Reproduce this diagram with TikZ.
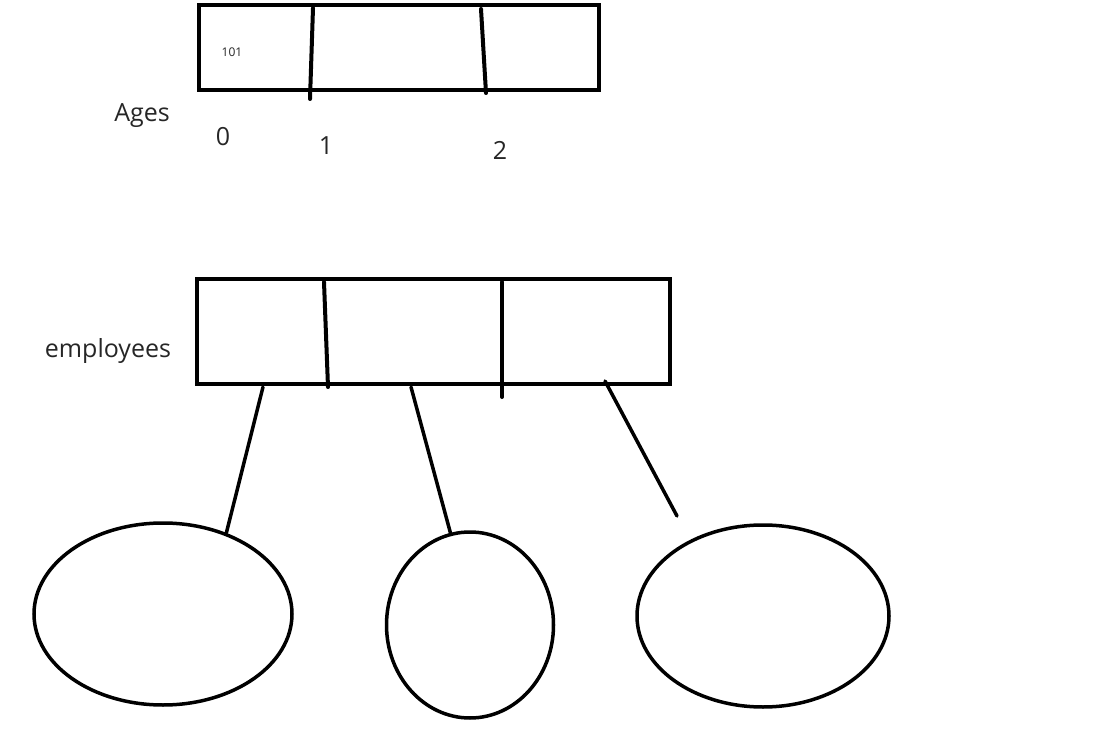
\documentclass[tikz,border=0pt]{standalone}
\usepackage{fontspec}
\setmainfont{Open Sans}
\usetikzlibrary{shapes.geometric}
\begin{document}
\begin{tikzpicture}[x=1pt,y=-1pt,
  cellbox/.style={draw, line width=4pt, rectangle, inner sep=0pt, outer sep=0pt, anchor=north west},
  divider/.style={line width=4pt, line cap=round},
  link/.style={line width=3.5pt, line cap=round},
  obj/.style={draw, line width=3.5pt, ellipse, inner sep=0pt},
  lbl/.style={font=\fontsize{25}{29}\selectfont, text=black!85, inner sep=0pt}]
\useasboundingbox (0,0) rectangle (1098,735);

% array "Ages"
\node[cellbox, minimum width=400pt, minimum height=85pt] (ages) at (199,5) {};
\coordinate (a1t) at (313,8);  \coordinate (a1b) at (310,99);
\coordinate (a2t) at (481,9);  \coordinate (a2b) at (486,93);
\draw[divider] (a1t) -- (a1b);
\draw[divider] (a2t) -- (a2b);
\node[lbl, font=\fontsize{12}{14}\selectfont] (v0) at (232,52) {101};
\node[lbl] (agesname) at (142,116) {Ages};
\node[lbl] (i0) at (223,137) {0};
\node[lbl] (i1) at (326,146) {1};
\node[lbl] (i2) at (500,150) {2};

% array "employees"
\node[cellbox, minimum width=473pt, minimum height=105pt] (emp) at (197,279) {};
\coordinate (e1t) at (324,282); \coordinate (e1b) at (328,387);
\coordinate (e2t) at (502,282); \coordinate (e2b) at (502,397);
\draw[divider] (e1t) -- (e1b);
\draw[divider] (e2t) -- (e2b);
\node[lbl] (empname) at (108,351) {employees};

% referenced objects
\node[obj, minimum width=258pt, minimum height=182pt] (o1) at (163,614) {};
\node[obj, minimum width=167pt, minimum height=186pt] (o2) at (470,625) {};
\node[obj, minimum width=252pt, minimum height=182pt] (o3) at (763,616) {};

% references
\coordinate (r1) at (263,387);
\coordinate (r2) at (411,387);
\coordinate (r3) at (605,381);
\coordinate (r3end) at (677,516);
\draw[link] (r1) -- (o1.52);
\draw[link] (r2) -- (o2.102);
\draw[link] (r3) -- (r3end);
\end{tikzpicture}
\end{document}
